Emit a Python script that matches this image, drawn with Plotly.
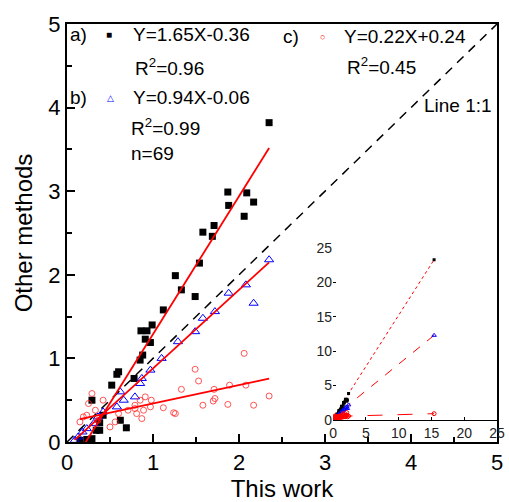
import plotly.graph_objects as go

# a) 黑色方块
a_x = [0.15, 0.23, 0.29, 0.34, 0.38, 0.38, 0.42, 0.29, 0.52, 0.58, 0.60, 0.62, 0.69, 0.78,
       0.85, 0.88, 0.86, 0.93, 0.91, 0.97, 0.99, 1.12, 1.26, 1.33, 1.49, 1.54, 1.58, 1.69,
       1.71, 1.87, 1.88, 2.06, 2.09, 2.17, 2.35]
a_y = [0.02, 0.03, 0.04, 0.14, 0.14, 0.23, 0.32, 0.50, 0.68, 0.81, 0.84, 0.26, 0.17, 0.76,
       0.98, 1.04, 1.33, 1.33, 1.23, 1.19, 1.40, 1.58, 1.99, 1.82, 1.74, 2.14, 2.51, 2.46,
       2.59, 2.99, 2.83, 2.70, 2.98, 2.87, 3.82]

# b) 蓝色三角
b_x = [0.09, 0.13, 0.18, 0.23, 0.31, 0.36, 0.42, 0.58, 0.62, 0.66, 0.79, 0.85, 0.87, 0.97,
       1.10, 1.29, 1.49, 1.58, 1.72, 1.88, 2.08, 2.17, 2.35]
b_y = [0.02, 0.06, 0.12, 0.16, 0.22, 0.30, 0.36, 0.42, 0.60, 0.50, 0.54, 0.70, 0.76, 0.86,
       1.00, 1.20, 1.32, 1.48, 1.56, 1.78, 1.88, 1.66, 2.18]

# c) 红色圆圈
c_x = [0.15, 0.19, 0.23, 0.25, 0.29, 0.33, 0.36, 0.42, 0.50, 0.56, 0.60, 0.71, 0.79, 0.79,
       0.81, 0.85, 0.87, 0.89, 0.91, 0.97, 0.98, 1.12, 1.24, 1.26, 1.33, 1.49, 1.53, 1.58,
       1.70, 1.71, 1.72, 1.87, 1.89, 2.06, 2.08, 2.17, 2.35]
c_y = [0.24, 0.30, 0.32, 0.46, 0.58, 0.38, 0.26, 0.50, 0.18, 0.24, 0.34, 0.38, 0.44, 0.40,
       0.34, 0.50, 0.28, 0.38, 0.54, 0.42, 0.50, 0.41, 0.35, 0.34, 0.63, 0.87, 0.73, 0.44,
       0.49, 0.63, 0.52, 0.45, 0.68, 1.06, 0.68, 0.44, 0.55]

# 拟合系数
fit_a = (1.65, -0.36)
fit_b = (0.94, -0.06)
fit_c = (0.22, 0.24)

# 小图中的离群点
out_x = [15.4, 15.4, 15.4]
out_y = [23.3, 12.3, 0.9]

FONT = "Liberation Sans, Arial, sans-serif"

fig = go.Figure()

# 1:1 线
fig.add_trace(go.Scatter(x=[0, 5], y=[0, 5], mode="lines",
                         line=dict(color="black", width=1.5, dash="9px,7px")))

series = [
    (a_x, a_y, fit_a, dict(symbol="square", size=7, color="black")),
    (b_x, b_y, fit_b, dict(symbol="triangle-up-open", size=8, color="blue", line=dict(width=1))),
    (c_x, c_y, fit_c, dict(symbol="circle-open", size=6, color="#ff2a2a", line=dict(width=0.8))),
]
for xs, ys, (k, b0), mk in series:
    fig.add_trace(go.Scatter(x=xs, y=ys, mode="markers", marker=mk))
for xs, ys, (k, b0), mk in series:
    x0, x1 = min(xs), max(xs)
    fig.add_trace(go.Scatter(x=[x0, x1], y=[k * x0 + b0, k * x1 + b0], mode="lines",
                             line=dict(color="red", width=1.8)))

# 小图
dashes = ["dot", "dash", "longdash"]
small = [dict(symbol="square", size=3, color="black"),
         dict(symbol="triangle-up-open", size=4, color="blue", line=dict(width=1)),
         dict(symbol="circle-open", size=4, color="red", line=dict(width=1))]
for i, (xs, ys, fit, mk) in enumerate(series):
    pts = sorted(zip(xs + [out_x[i]], ys + [out_y[i]]))
    fig.add_trace(go.Scatter(x=[p[0] for p in pts], y=[p[1] for p in pts],
                             mode="lines+markers", xaxis="x2", yaxis="y2",
                             marker=small[i], line=dict(color="red", width=1, dash=dashes[i])))

ax = dict(range=[0, 5], showline=True, linecolor="black", linewidth=2, mirror=True,
          ticks="inside", ticklen=8, tickwidth=1.5, tickcolor="black", dtick=1,
          showgrid=False, zeroline=False, automargin=False,
          minor=dict(ticks="inside", ticklen=5, tickwidth=1.5, tickcolor="black", dtick=0.5),
          tickfont=dict(family=FONT, size=22, color="black"))

fig.update_layout(
    width=509, height=502,
    margin=dict(l=67, r=12, t=24, b=60, autoexpand=False),
    plot_bgcolor="white", paper_bgcolor="white",
    showlegend=False,
    xaxis=dict(ax, title=dict(text="This work", font=dict(family=FONT, size=24, color="black"), standoff=0)),
    yaxis=dict(ax, title=dict(text="Other methods", font=dict(family=FONT, size=24, color="black"), standoff=9)),
    xaxis2=dict(domain=[0.619, 1.0], anchor="y2", range=[0, 25], dtick=5,
                showline=True, linecolor="black", linewidth=1, ticks="inside", ticklen=3,
                tickcolor="black", showgrid=False, zeroline=False, automargin=False,
                tickfont=dict(family=FONT, size=14, color="#222")),
    yaxis2=dict(domain=[0.053, 0.464], anchor="x2", range=[0, 25], dtick=5,
                showline=False, ticks="inside", ticklen=3, tickcolor="black",
                showgrid=False, zeroline=False, automargin=False,
                tickfont=dict(family=FONT, size=14, color="#222")),
)

def note(x, y, text, size=19, color="black", anchor="left"):
    fig.add_annotation(x=x, y=y, xref="x", yref="y", text=text, showarrow=False,
                       xanchor=anchor, yanchor="middle",
                       font=dict(family=FONT, size=size, color=color))

note(0.01, 4.87, "a)")
note(0.49, 4.87, "■", size=10, anchor="center")
note(0.74, 4.87, "Y=1.65X-0.36")
note(0.77, 4.49, "R<sup>2</sup>=0.96")
note(0.01, 4.12, "b)")
note(0.50, 4.12, "△", size=9, color="blue", anchor="center")
note(0.74, 4.12, "Y=0.94X-0.06")
note(0.72, 3.77, "R<sup>2</sup>=0.99")
note(0.72, 3.45, "n=69")
note(2.49, 4.85, "c)")
note(2.97, 4.85, "○", size=9, color="red", anchor="center")
note(3.20, 4.85, "Y=0.22X+0.24")
note(3.23, 4.50, "R<sup>2</sup>=0.45")
note(4.13, 4.02, "Line 1:1")

# 去掉页面默认边距
fig.write_html("out.html", config={"displayModeBar": False},
               post_script="document.body.style.margin='0';")
